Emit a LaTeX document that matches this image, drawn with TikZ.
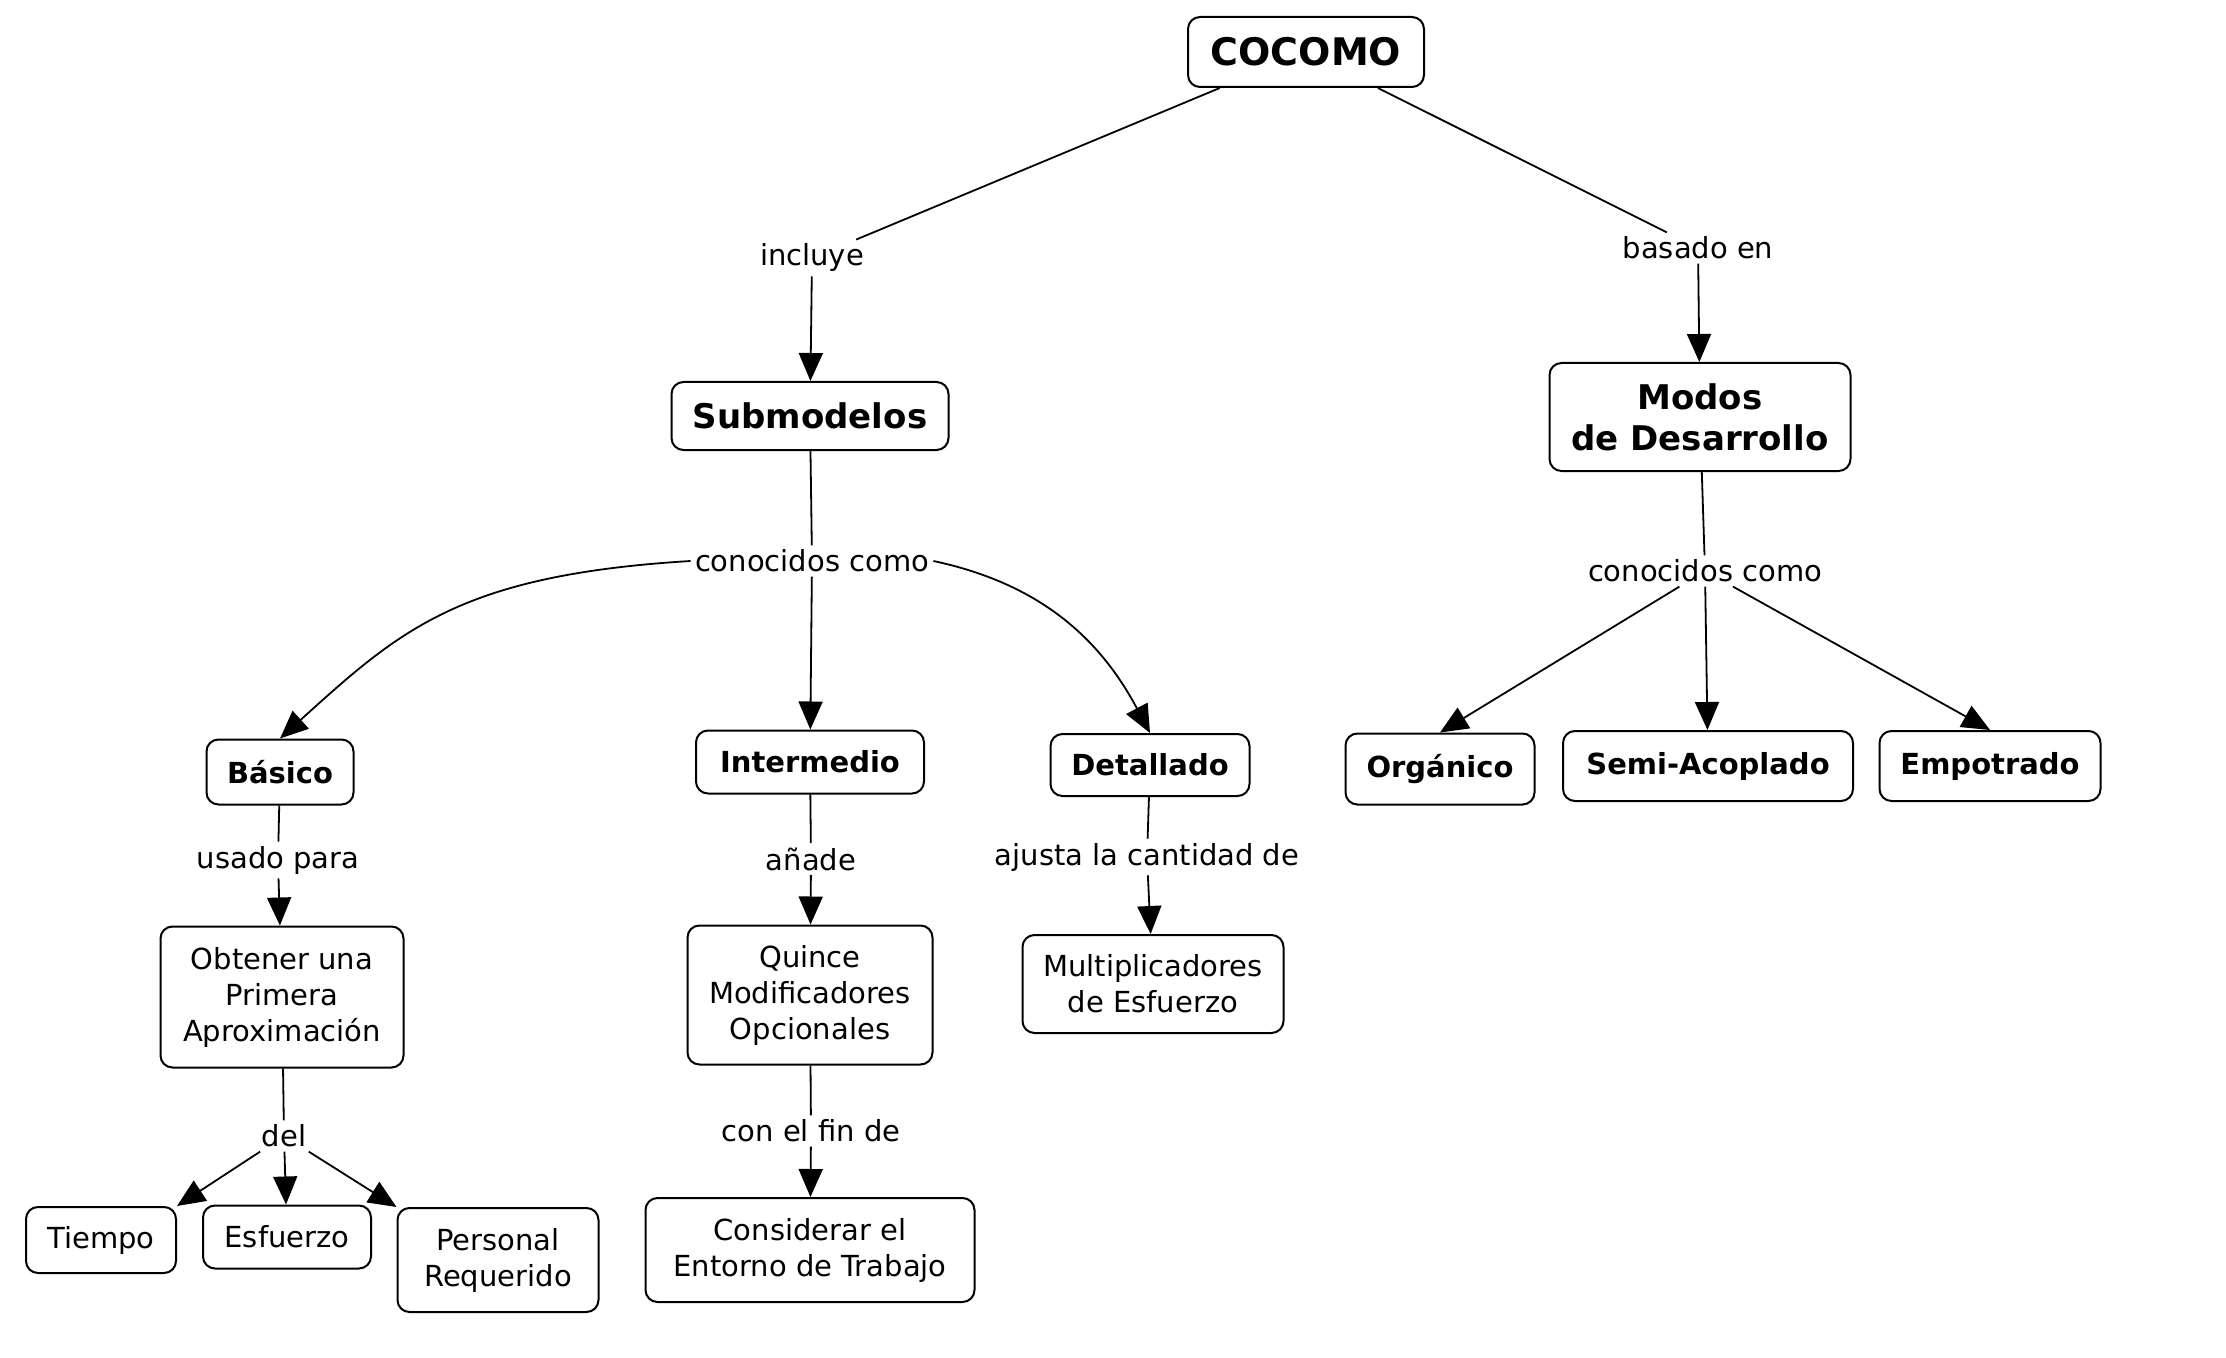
\documentclass[tikz,border=0pt]{standalone}
\usepackage{fontspec}
\setmainfont{DejaVu Sans}
\usetikzlibrary{arrows.meta}

\begin{document}
\begin{tikzpicture}[x=0.5pt,y=-0.5pt,
  concept/.style={draw=black, line width=1pt, rounded corners=6pt, fill=white,
    align=center, inner sep=0pt, font=\fontsize{14.5}{18}\selectfont},
  key/.style={concept, font=\fontsize{14.5}{18}\selectfont\bfseries},
  big/.style={concept, font=\fontsize{17}{20.5}\selectfont\bfseries},
  top/.style={concept, font=\fontsize{19}{23}\selectfont\bfseries},
  sz/.style 2 args={minimum width={#1*0.5pt}, minimum height={#2*0.5pt}},
  link/.style={inner sep=2pt, font=\fontsize{14.5}{18}\selectfont},
  line/.style={line width=0.9pt},
  arr/.style={line, -{Triangle[length=14pt,width=12pt]}}
]
\useasboundingbox (0,0) rectangle (2226,1358);

% concepts
\node[top, sz={236}{70}] (cocomo) at (1306,52) {COCOMO};
\node[big, sz={277}{68}] (sub) at (810,416) {Submodelos};
\node[big, sz={301}{108}] (modos) at (1700,417) {Modos\\de Desarrollo};
\node[key, sz={147}{65}] (basico) at (280,772) {Básico};
\node[key, sz={228}{63}] (inter) at (810,762) {Intermedio};
\node[key, sz={199}{62}] (detal) at (1150,765) {Detallado};
\node[key, sz={189}{71}] (org) at (1440,769) {Orgánico};
\node[key, sz={290}{70}] (semi) at (1708,766) {Semi-Acoplado};
\node[key, sz={221}{70}] (empo) at (1990,766) {Empotrado};
\node[concept, sz={243}{141}] (obt) at (282,997) {Obtener una\\Primera\\Aproximación};
\node[concept, sz={245}{139}] (quince) at (810,995) {Quince\\Modificadores\\Opcionales};
\node[concept, sz={261}{98}] (mult) at (1153,984) {Multiplicadores\\de Esfuerzo};
\node[concept, sz={329}{104}] (cons) at (810,1250) {Considerar el\\Entorno de Trabajo};
\node[concept, sz={150}{66}] (tiempo) at (101,1240) {Tiempo};
\node[concept, sz={168}{63}] (esf) at (287,1237) {Esfuerzo};
\node[concept, sz={201}{104}] (pers) at (498,1260) {Personal\\Requerido};

% linking phrases
\node[link] (incluye) at (812,258) {incluye};
\node[link] (basado) at (1698,248) {basado en};
\node[link] (con1) at (812,561) {conocidos como};
\node[link] (con2) at (1705,571) {conocidos como};
\node[link] (usado) at (278,860) {usado para};
\node[link] (anade) at (811,859) {añade};
\node[link] (ajusta) at (1147,857) {ajusta la cantidad de};
\node[link] (confin) at (811,1131) {con el fin de};
\node[link] (del) at (284,1136) {del};

% connections
\draw[line] (cocomo) -- (incluye);
\draw[arr] (incluye) -- (sub);
\draw[line] (cocomo) -- (basado);
\draw[arr] (basado) -- (modos);

\draw[line] (sub) -- (con1);
\draw[arr] (con1.west) .. controls (460,575) and (400,630) .. (basico.north);
\draw[arr] (con1) -- (inter);
\draw[arr] (con1.east) to[out=-12,in=118] (detal.north);

\draw[line] (modos) -- (con2);
\draw[arr] (con2) -- (org.north);
\draw[arr] (con2) -- (semi);
\draw[arr] (con2) -- (empo.north);

\draw[line] (basico) -- (usado);
\draw[arr] (usado) -- (obt);
\draw[line] (inter) -- (anade);
\draw[arr] (anade) -- (quince);
\draw[line] (quince) -- (confin);
\draw[arr] (confin) -- (cons);
\draw[line] (detal) -- (ajusta);
\draw[arr] (ajusta) -- (mult);

\draw[line] (obt) -- (del);
\draw[arr] (del) -- (tiempo.north east);
\draw[arr] (del) -- (esf);
\draw[arr] (del) -- (pers.north west);
\end{tikzpicture}
\end{document}
